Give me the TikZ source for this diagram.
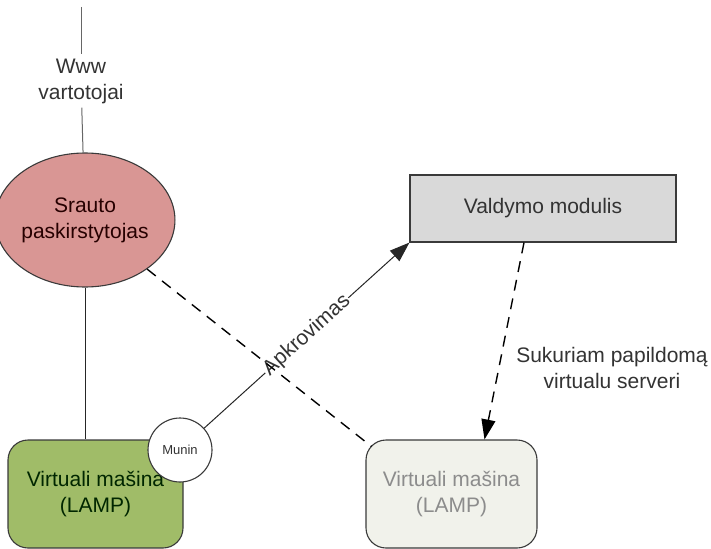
\documentclass[tikz,border=0pt]{standalone}
\usepackage{fontspec}
\setmainfont{Liberation Sans}
\usetikzlibrary{arrows.meta,shapes.geometric}
\definecolor{balancer}{HTML}{D99694}
\definecolor{vmgreen}{HTML}{A0BC68}
\definecolor{ctrlgray}{HTML}{D9D9D9}
\definecolor{vmpale}{HTML}{F1F2EB}
\definecolor{edge}{HTML}{3A3A3A}
\begin{document}
\begin{tikzpicture}[x=1pt,y=-1pt,
  big/.style={font=\fontsize{21}{26}\selectfont, align=center, text=black!80},
  boxline/.style={draw=edge, line width=1.1pt},
  link/.style={draw=black!85, line width=1pt},
  dashlink/.style={draw=black, line width=1.4pt, dash pattern=on 11pt off 8pt},
  tip/.style={-{Triangle[length=20pt,width=14pt]}}]
\useasboundingbox (0,0) rectangle (711,548);

% users at the top
\coordinate (top) at (81,7);
\node[big, inner ysep=4pt] (www) at (81,81) {Www\\vartotojai};

% load balancer
\node[big, ellipse, boxline, fill=balancer, text=black!85!red,
      minimum width=152pt, minimum height=134pt, inner sep=0pt]
      (lb) at (85,220) {Srauto\\paskirstytojas};

% control module
\node[big, rectangle, boxline, fill=ctrlgray,
      minimum width=266pt, minimum height=67pt]
      (ctrl) at (543,208.5) {Valdymo modulis};

% running virtual machine
\node[big, rectangle, rounded corners=20pt, boxline, fill=vmgreen,
      text=black!85!green, minimum width=175pt, minimum height=108pt]
      (vm1) at (95.5,494) {Virtuali mašina\\(LAMP)};

% new virtual machine
\node[big, rectangle, rounded corners=20pt, boxline, fill=vmpale,
      text=black!45, minimum width=171pt, minimum height=108pt]
      (vm2) at (451.5,494) {Virtuali mašina\\(LAMP)};

% monitoring agent
\node[circle, boxline, fill=white, minimum size=64pt, inner sep=0pt,
      font=\fontsize{13}{15}\selectfont, text=black!80]
      (munin) at (180,450) {Munin};

% connectors
\draw[draw=black!60, line width=1pt] (top) -- (www);
\draw[draw=black!60, line width=1pt] (www) -- (lb);
\draw[link] (lb.south) -- (lb.south |- vm1.north);
\draw[link, tip] (munin) -- (ctrl.south west)
  node[pos=0.5, sloped, fill=white, inner sep=1pt, big] {Apkrovimas};
\draw[dashlink] (lb) -- ([shift={(6pt,-7pt)}]vm2.north west);
\draw[dashlink, tip] ([xshift=-19pt]ctrl.south) -- ([xshift=33pt]vm2.north);

% label of the provisioning step
\node[big] (newsrv) at (612,368) {Sukuriam papildomą\\virtualu serveri};
\end{tikzpicture}
\end{document}
